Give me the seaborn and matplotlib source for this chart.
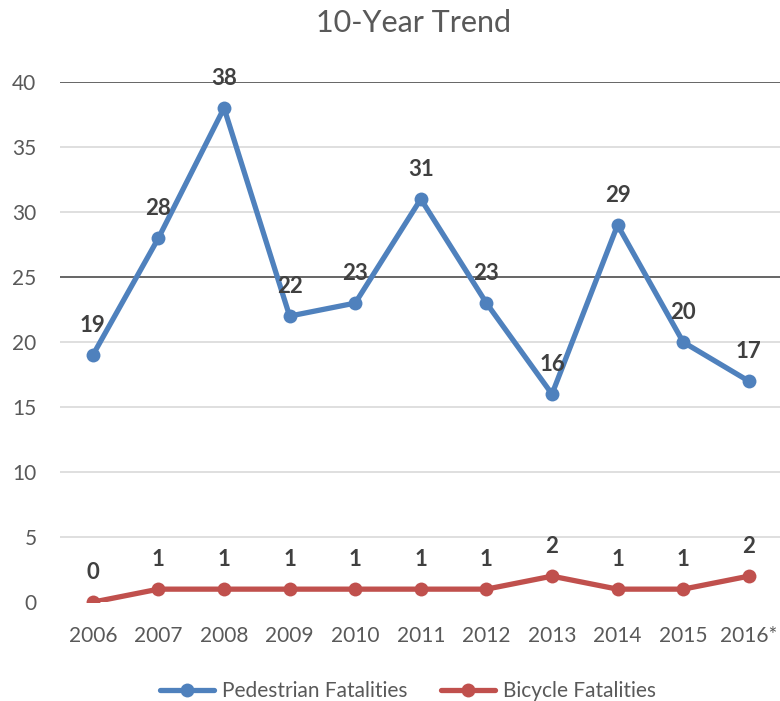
import matplotlib.pyplot as plt
import pandas as pd
import seaborn as sns

years = ["2006", "2007", "2008", "2009", "2010", "2011", "2012", "2013", "2014", "2015", "2016*"]
pedestrian = [19, 28, 38, 22, 23, 31, 23, 16, 29, 20, 17]
bicycle = [0, 1, 1, 1, 1, 1, 1, 2, 1, 1, 2]
series_names = ["Pedestrian Fatalities", "Bicycle Fatalities"]
colors = ["#4F81BD", "#C0504D"]

sns.set_style("white")
plt.rcParams["font.family"] = ["Lato", "DejaVu Sans"]

df = pd.DataFrame({
    "year": years * 2,
    "pos": list(range(len(years))) * 2,
    "value": pedestrian + bicycle,
    "series": [series_names[0]] * len(years) + [series_names[1]] * len(years),
})

fig = plt.figure(figsize=(7.8, 7.01), dpi=100)
ax = fig.add_axes([0.077, 0.141, 0.925, 0.742])

# light grid, with the two darker lines as in the original
for y in range(5, 41, 5):
    dark = y in (25, 40)
    ax.axhline(y, color="#595959" if dark else "#D9D9D9",
               lw=1.3 if dark else 1.2, zorder=0)

sns.lineplot(data=df, x="pos", y="value", hue="series", palette=colors,
             marker="o", markersize=10, markeredgewidth=0, linewidth=3.8,
             ax=ax, legend=False)

for vals in (pedestrian, bicycle):
    for i, v in enumerate(vals):
        ax.annotate(str(v), (i, v), xytext=(0, 14), textcoords="offset points",
                    ha="center", va="bottom", fontsize=16, fontweight="bold",
                    color="#404040")

ax.set_xlim(-0.5, len(years) - 0.5)
ax.set_ylim(0, 40)
ax.set_xticks(range(len(years)))
ax.set_xticklabels(years)
ax.set_yticks(range(0, 41, 5))
ax.tick_params(axis="both", length=0, labelsize=15, labelcolor="#595959")
ax.tick_params(axis="x", pad=17)
ax.tick_params(axis="y", pad=17)
ax.set_xlabel("")
ax.set_ylabel("")
for s in ax.spines.values():
    s.set_visible(False)

fig.suptitle("10-Year Trend", x=0.53, y=0.987, fontsize=22, color="#595959")

handles = [plt.Line2D([], [], color=c, lw=3.8, marker="o", markersize=10,
                      markeredgewidth=0) for c in colors]
fig.legend(handles, series_names, loc="lower center", ncol=2, frameon=False,
           bbox_to_anchor=(0.523, -0.027), fontsize=15, labelcolor="#595959",
           handlelength=2.6, handletextpad=0.4, columnspacing=1.6)

fig.savefig("out.png", dpi=100)
